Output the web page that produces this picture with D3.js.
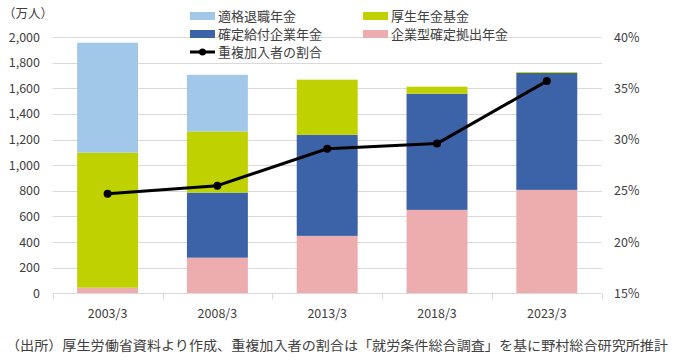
<!DOCTYPE html>
<html>
<head>
<meta charset="utf-8">
<script src="https://cdn.jsdelivr.net/npm/d3@7"></script>
<style>
    html, body { margin: 0; padding: 0; background: #fff; }
    svg text { font-family: "Noto Sans CJK JP", "Noto Sans", sans-serif; fill: #404040; }
</style>
</head>
<body>
<div id="render-zone"></div>
<script>
/* chart data */
var categories = [ "2003/3", "2008/3", "2013/3", "2018/3", "2023/3" ];

var seriesNames = [ "企業型確定拠出年金", "確定給付企業年金", "厚生年金基金", "適格退職年金" ];
var dcValues    = [ 44, 278, 448, 651, 807 ];   // 企業型確定拠出年金
var dbValues    = [ 0, 508, 789, 906, 912 ];    // 確定給付企業年金
var kikinValues = [ 1054, 477, 430, 55, 7 ];    // 厚生年金基金
var tekikakuValues = [ 857, 442, 0, 0, 0 ];     // 適格退職年金

var lineName   = "重複加入者の割合";
var ratioValues = [ 24.7, 25.5, 29.1, 29.6, 35.7 ];

var leftTicks  = [ 0, 200, 400, 600, 800, 1000, 1200, 1400, 1600, 1800, 2000 ];
var rightTicks = [ 15, 20, 25, 30, 35, 40 ];

(function( w ) {

"use strict";

var /* layout settings */
    _d = {
        width : 674, height : 361,
        left : 52.7, right : 601.7, top : 37, bottom : 293.3,
        colors : [ "#EDACAE", "#3C63A8", "#BFD200", "#A1C8E8" ],
        grid : "#D9D9D9"
    },

    svg = d3.select("#render-zone").append("svg")
        .attr("width", _d.width)
        .attr("height", _d.height),

    x = d3.scaleBand( ).domain( categories )
        .range([ _d.left, _d.right ])
        .paddingInner( 0.445 ).paddingOuter( 0.2225 ),
    step = x.step( ),
    yL = d3.scaleLinear( ).domain([ 0, 2000 ]).range([ _d.bottom, _d.top ]),
    yR = d3.scaleLinear( ).domain([ 15, 40 ]).range([ _d.bottom, _d.top ]),

    /* build stack rows from the named arrays */
    rows = categories.map(function( c, i ){
        return { cat : c, s0 : dcValues[i], s1 : dbValues[i], s2 : kikinValues[i], s3 : tekikakuValues[i] };
    }),
    stack = d3.stack( ).keys([ "s0", "s1", "s2", "s3" ])( rows );

/* gridlines */
svg.append("g").selectAll("line")
    .data( leftTicks.slice(1) )
    .join("line")
    .attr("x1", _d.left).attr("x2", _d.right)
    .attr("y1", function( v ){ return Math.round( yL(v) ) + 0.5; })
    .attr("y2", function( v ){ return Math.round( yL(v) ) + 0.5; })
    .attr("stroke", _d.grid).attr("stroke-width", 1);

/* stacked bars */
svg.append("g").selectAll("g")
    .data( stack )
    .join("g")
    .attr("fill", function( s, i ){ return _d.colors[i]; })
    .selectAll("rect")
    .data(function( s ){ return s; })
    .join("rect")
    .attr("x", function( d ){ return x( d.data.cat ); })
    .attr("width", x.bandwidth( ))
    .attr("y", function( d ){ return yL( d[1] ); })
    .attr("height", function( d ){ return yL( d[0] ) - yL( d[1] ); });

/* bottom axis line with category separators */
var axisY = Math.round( _d.bottom ) + 0.5;
svg.append("line")
    .attr("x1", _d.left).attr("x2", _d.right)
    .attr("y1", axisY).attr("y2", axisY)
    .attr("stroke", _d.grid);
svg.append("g").selectAll("line")
    .data( d3.range( categories.length + 1 ) )
    .join("line")
    .attr("x1", function( i ){ return Math.round( _d.left + i * step ) + 0.5; })
    .attr("x2", function( i ){ return Math.round( _d.left + i * step ) + 0.5; })
    .attr("y1", axisY).attr("y2", axisY + 6)
    .attr("stroke", _d.grid);

/* category labels */
svg.append("g").selectAll("text")
    .data( categories )
    .join("text")
    .attr("x", function( c ){ return x( c ) + x.bandwidth( ) / 2; })
    .attr("y", 318)
    .attr("text-anchor", "middle")
    .attr("font-size", "12.5px")
    .text(function( c ){ return c; });

/* left axis labels */
svg.append("g").selectAll("text")
    .data( leftTicks )
    .join("text")
    .attr("x", 40)
    .attr("y", function( v ){ return yL( v ) + 4.5; })
    .attr("text-anchor", "end")
    .attr("font-size", "12.5px")
    .text( d3.format(",") );

svg.append("text")
    .attr("x", 3).attr("y", 18)
    .attr("font-size", "12.5px")
    .text("（万人）");

/* right axis labels */
svg.append("g").selectAll("text")
    .data( rightTicks )
    .join("text")
    .attr("x", 614)
    .attr("y", function( v ){ return yR( v ) + 4.5; })
    .attr("font-size", "12.5px")
    .text(function( v ){ return v + "%"; });

/* ratio line */
var cx = function( d, i ){ return x( categories[i] ) + x.bandwidth( ) / 2; };
svg.append("path")
    .datum( ratioValues )
    .attr("fill", "none")
    .attr("stroke", "#000")
    .attr("stroke-width", 3)
    .attr("stroke-linejoin", "round")
    .attr("d", d3.line( ).x( cx ).y(function( v ){ return yR( v ); }));
svg.append("g").selectAll("circle")
    .data( ratioValues )
    .join("circle")
    .attr("cx", cx)
    .attr("cy", function( v ){ return yR( v ); })
    .attr("r", 4)
    .attr("fill", "#000");

/* legend */
var legendItems = [
        { name : seriesNames[3], color : _d.colors[3], x : 190, y : 16 },
        { name : seriesNames[2], color : _d.colors[2], x : 363, y : 16 },
        { name : seriesNames[1], color : _d.colors[1], x : 190, y : 34 },
        { name : seriesNames[0], color : _d.colors[0], x : 363, y : 34 }
    ],
    lg = svg.append("g");

lg.selectAll("rect")
    .data( legendItems )
    .join("rect")
    .attr("x", function( d ){ return d.x; })
    .attr("y", function( d ){ return d.y - 4; })
    .attr("width", 25).attr("height", 8)
    .attr("fill", function( d ){ return d.color; });
lg.selectAll("text")
    .data( legendItems )
    .join("text")
    .attr("x", function( d ){ return d.x + 28; })
    .attr("y", function( d ){ return d.y + 5; })
    .attr("font-size", "13px")
    .text(function( d ){ return d.name; });

lg.append("line")
    .attr("x1", 190).attr("x2", 215).attr("y1", 52).attr("y2", 52)
    .attr("stroke", "#000").attr("stroke-width", 3);
lg.append("circle").attr("cx", 202.5).attr("cy", 52).attr("r", 3.5).attr("fill", "#000");
lg.append("text")
    .attr("x", 218).attr("y", 57)
    .attr("font-size", "13px")
    .text( lineName );

/* source note */
svg.append("text")
    .attr("x", 6).attr("y", 350)
    .attr("font-size", "13px")
    .attr("textLength", 662)
    .attr("lengthAdjust", "spacingAndGlyphs")
    .text("（出所）厚生労働省資料より作成、重複加入者の割合は「就労条件総合調査」を基に野村総合研究所推計");

})( window );
</script>
</body>
</html>
